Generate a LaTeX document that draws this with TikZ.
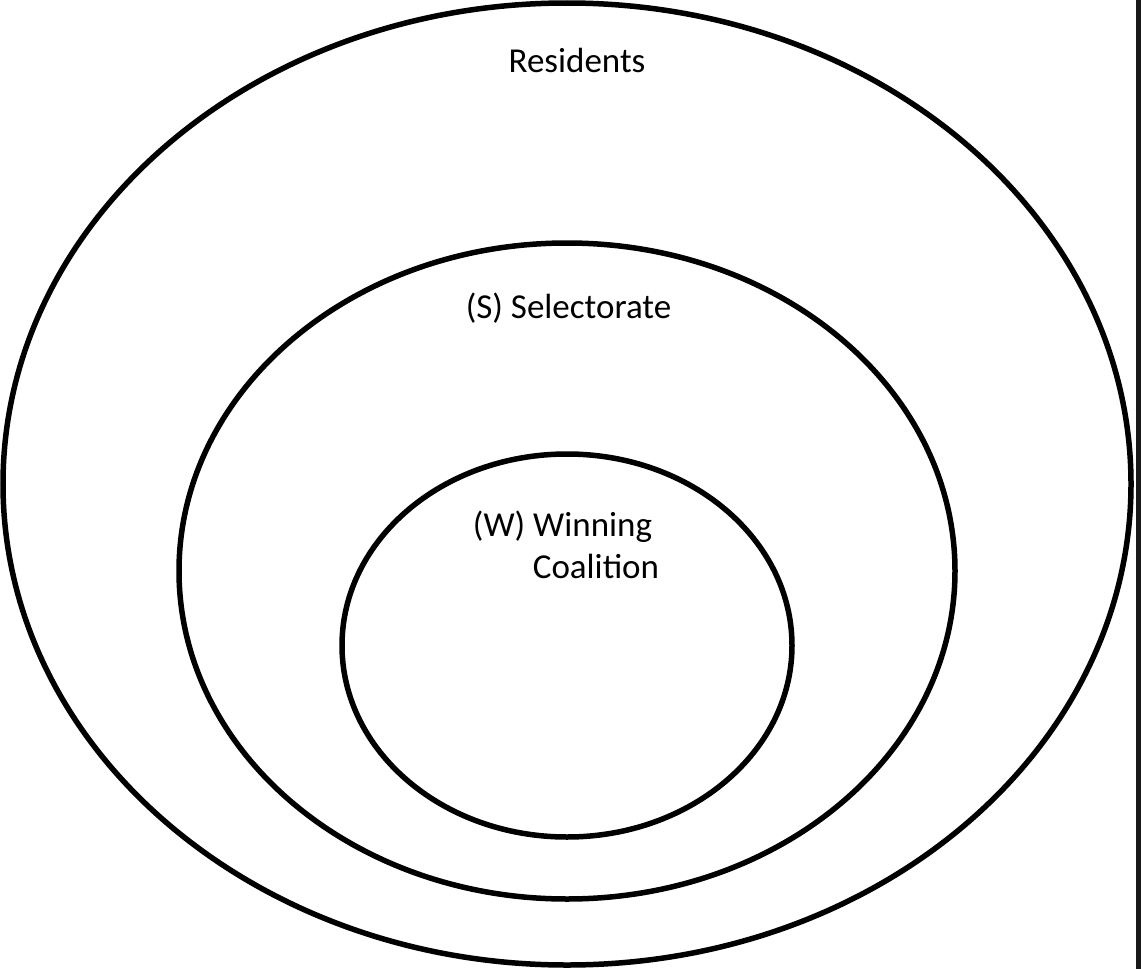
\documentclass[tikz,border=0pt]{standalone}
\usepackage{fontspec}
\setmainfont{Carlito}
\begin{document}
\begin{tikzpicture}[x=1pt,y=-1pt,
  ring/.style={draw=black,line width=5.5pt},
  lbl/.style={font=\fontsize{35}{40}\selectfont,inner sep=0pt,anchor=base}]
\useasboundingbox (0,0) rectangle (1141,969);
\fill[white] (0,0) rectangle (1141,969);
\fill[black!90] (1136,0) rectangle (1141,969);
\draw[ring] (567,484) ellipse [x radius=564, y radius=481];
\draw[ring] (567,571) ellipse [x radius=388, y radius=328];
\draw[ring] (567,645.5) ellipse [x radius=225, y radius=191.5];
\node[lbl] (res) at (577,72) {Residents};
\node[lbl] (sel) at (568.5,318) {(S) Selectorate};
\node[lbl] (win) at (562.5,536) {(W) Winning};
\node[lbl] (coa) at (596,578) {Coalition};
\end{tikzpicture}
\end{document}
